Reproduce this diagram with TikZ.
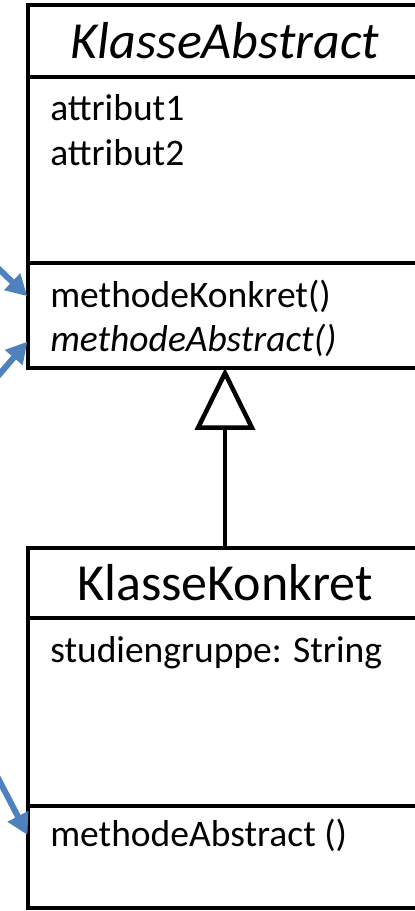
\documentclass[tikz,border=0pt]{standalone}
\usepackage{fontspec}
\setmainfont{Carlito}
\usetikzlibrary{calc,arrows.meta}
\definecolor{linkblue}{RGB}{79,129,189}

\begin{document}
\begin{tikzpicture}[x=1pt, y=1pt, line width=4.5pt,
classtitle/.style={rectangle, draw, minimum width=394pt, inner sep=0pt, outer sep=0pt, font=\fontsize{52}{60}\selectfont},
classpart/.style={rectangle, draw, minimum width=394pt, inner sep=0pt, outer sep=0pt},
member/.style={anchor=base west, inner sep=0pt, font=\fontsize{37.5}{44}\selectfont},
pointer/.style={-{Triangle[length=21pt, width=22pt]}, draw=linkblue, line width=6pt, shorten >=1pt},
inherit/.style={-{Triangle[open, length=62pt, width=60pt, fill=white]}}]
 \useasboundingbox (0,0) rectangle (415,911);
 % abstract class
 \node[classtitle, minimum height=72pt] (abstitle) at (225,870) {\itshape KlasseAbstract};
 \node[classpart, minimum height=186pt, below of=abstitle, node distance=129pt] (absattr) {};
 \node[classpart, minimum height=105pt, below of=absattr, node distance=145.5pt] (absmeth) {};
 \node[member] (attr1) at (48,790) {attribut1};
 \node[member] (attr2) at (48,745) {attribut2};
 \node[member] (methkonkret) at (48,603) {methodeKonkret()};
 \node[member] (methabstract) at (48,559) {\itshape methodeAbstract()};

 % concrete class
 \node[classtitle, minimum height=70pt] (kontitle) at (225,328) {KlasseKonkret};
 \node[classpart, minimum height=188pt, below of=kontitle, node distance=129pt] (konattr) {};
 \node[classpart, minimum height=102pt, below of=konattr, node distance=145pt] (konmeth) {};
 \node[member] (studgruppe) at (48,248) {studiengruppe: String};
 \node[member] (methimpl) at (48,64) {methodeAbstract ()};

 \draw[inherit] (kontitle.north) -- (absmeth.south);

 \coordinate (src1) at (-20,660);
 \coordinate (src2) at (-20,514);
 \coordinate (src3) at (-15,158);
 \draw[pointer] (src1) -- (absmeth.west |- methkonkret);
 \draw[pointer] (src2) -- (absmeth.west |- methabstract);
 \draw[pointer] (src3) -- (konmeth.west |- methimpl);
\end{tikzpicture}
\end{document}
